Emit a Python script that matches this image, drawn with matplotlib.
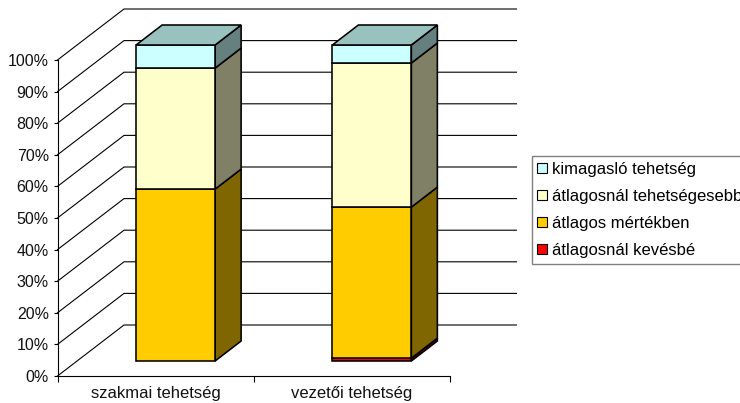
import matplotlib
matplotlib.use('Agg')
import matplotlib.pyplot as plt
from matplotlib.patches import Polygon, Patch

categories = ['szakmai tehetség', 'vezetői tehetség']
series_names = ['átlagosnál kevésbé', 'átlagos mértékben', 'átlagosnál tehetségesebb', 'kimagasló tehetség']
# percent values, bottom to top of the stack
kevesbe = [0, 0.9]
atlagos = [54.4, 47.8]
tehetsegesebb = [38.3, 45.6]
kimagaslo = [7.3, 5.7]
y_ticks = [0, 10, 20, 30, 40, 50, 60, 70, 80, 90, 100]

front_colors = ['#FF0000', '#FFCC00', '#FFFFCC', '#CCFFFF']
side_colors = ['#800000', '#806600', '#808066', '#668080']
top_color = '#99C2BE'

W, H = 740, 403
plt.rcParams['font.family'] = ['Liberation Sans', 'DejaVu Sans']

fig = plt.figure(figsize=(W / 100, H / 100), dpi=100)
ax = fig.add_axes([57.5 / W, (H - 376) / H, 392.5 / W, 316 / H])
ax.set_xlim(0, 2)
ax.set_ylim(0, 100)

# pixels to data units, the chart is a fake 3d one
px_x = 2 / 392.5
px_y = 100 / 316
wall_dx = 66.5 * px_x
wall_dy = 51 * px_y
bar_w = 79 * px_x
off_x = 20 * px_x
off_y = 15 * px_y
depth_x = 26 * px_x
depth_y = 20 * px_y

# gridlines on left and back wall
for t in y_ticks:
    ax.plot([0, wall_dx, 2 + wall_dx], [t, t + wall_dy, t + wall_dy], color='black', lw=0.8,
            clip_on=False, zorder=1, solid_joinstyle='miter')


def add_poly(pts, color):
    ax.add_patch(Polygon(pts, closed=True, facecolor=color, edgecolor='black', lw=1.15,
                         clip_on=False, zorder=3, joinstyle='miter'))


stack = [kevesbe, atlagos, tehetsegesebb, kimagaslo]
for i in range(len(categories)):
    x0 = i + 0.5 - bar_w / 2 + off_x
    x1 = x0 + bar_w
    bottom = off_y
    for s, values in enumerate(stack):
        v = values[i]
        if v == 0:
            continue
        top = bottom + v
        add_poly([(x1, bottom), (x1 + depth_x, bottom + depth_y),
                  (x1 + depth_x, top + depth_y), (x1, top)], side_colors[s])
        add_poly([(x0, bottom), (x1, bottom), (x1, top), (x0, top)], front_colors[s])
        bottom = top
    add_poly([(x0, bottom), (x1, bottom), (x1 + depth_x, bottom + depth_y),
              (x0 + depth_x, bottom + depth_y)], top_color)

for side in ['top', 'right']:
    ax.spines[side].set_visible(False)
for side in ['left', 'bottom']:
    ax.spines[side].set_linewidth(0.8)

ax.set_yticks(y_ticks)
ax.set_yticklabels([f'{t}%' for t in y_ticks], fontsize=11.5, color='#111111')
ax.tick_params(axis='y', length=3, width=0.8, pad=3.3)
ax.set_xticks([0, 1, 2])
ax.set_xticklabels([])
ax.tick_params(axis='x', which='major', length=4, width=0.8)
ax.set_xticks([0.5, 1.5], minor=True)
ax.set_xticklabels(categories, minor=True, fontsize=12, color='#111111')
ax.tick_params(axis='x', which='minor', length=0, pad=7)

handles = [Patch(facecolor=c, edgecolor='black', lw=0.8, label=n)
           for c, n in zip(front_colors, series_names)][::-1]
fig.legend(handles=handles, loc='upper left', bbox_to_anchor=(531.7 / W, 1 - 156.2 / H),
           bbox_transform=fig.transFigure, borderaxespad=0, fontsize=12, fancybox=False,
           edgecolor='#808080', framealpha=1, handlelength=0.55, handleheight=0.55,
           handletextpad=0.35, labelspacing=0.72, borderpad=0.34).get_frame().set_linewidth(1)

fig.savefig('out.png', dpi=100)
